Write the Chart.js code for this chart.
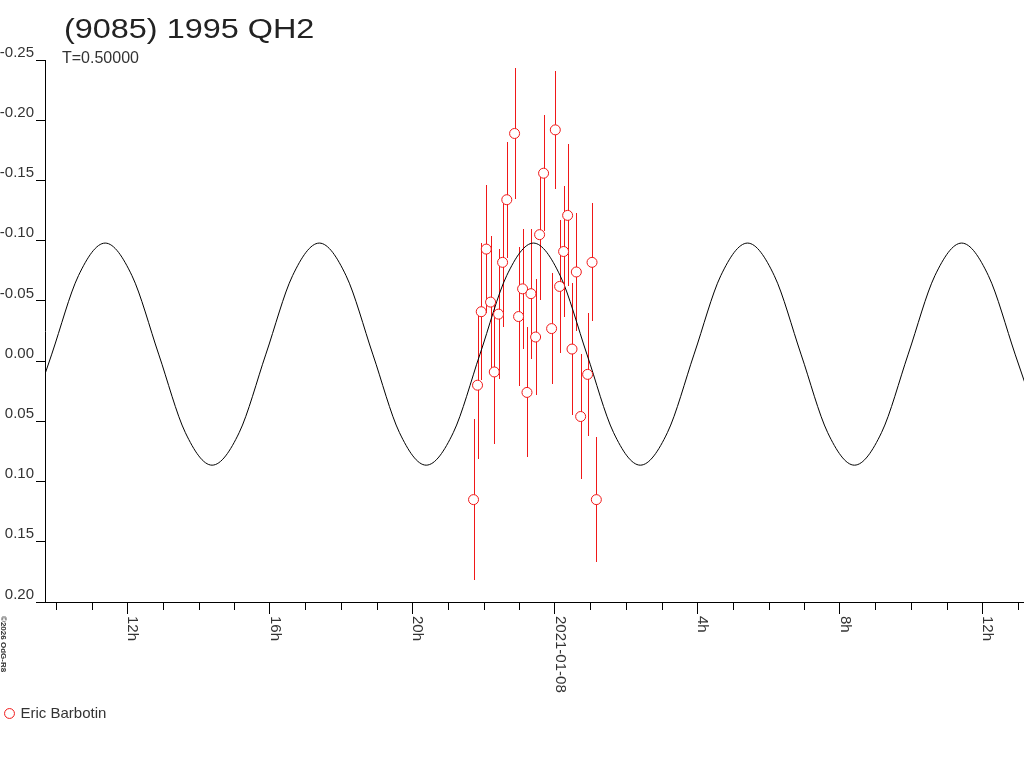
<!DOCTYPE html>
<html>
<head>
<meta charset="utf-8">
<title>(9085) 1995 QH2</title>
<script src="https://cdn.jsdelivr.net/npm/chart.js@4/dist/chart.umd.min.js"></script>
<style>
  html, body { margin: 0; padding: 0; background: #fff; }
  canvas { display: block; }
</style>
</head>
<body>
<canvas id="lc" width="1024" height="768"></canvas>
<script>
// hours from 2021-01-08 00:00 UT
var obsHours = [-2.281, -2.169, -2.065, -1.924, -1.803, -1.699, -1.579, -1.466, -1.348, -1.129,
                -1.017, -0.904, -0.781, -0.669, -0.539, -0.427, -0.315, -0.090, 0.014, 0.135,
                0.247, 0.360, 0.483, 0.604, 0.725, 0.921, 1.045, 1.166];
var obsMags = [0.115, 0.020, -0.041, -0.093, -0.049, 0.009, -0.039, -0.082, -0.134, -0.189,
               -0.037, -0.060, 0.026, -0.056, -0.020, -0.105, -0.156, -0.027, -0.192, -0.062,
               -0.091, -0.121, -0.010, -0.074, 0.046, 0.011, -0.082, 0.115];
var obsErrs = [0.067, 0.061, 0.057, 0.053, 0.055, 0.060, 0.054, 0.054, 0.048, 0.054,
               0.058, 0.050, 0.054, 0.054, 0.048, 0.054, 0.048, 0.046, 0.049, 0.055,
               0.054, 0.059, 0.055, 0.049, 0.052, 0.051, 0.049, 0.052];

// fitted curve
var curveHours = [-14.87, -14.12, -13.37, -12.62, -11.87, -11.12, -10.37, -9.62, -8.86, -8.11,
                  -7.36, -6.61, -5.86, -5.11, -4.36, -3.61, -2.85, -2.10, -1.35, -0.60,
                  0.15, 0.90, 1.65, 2.40, 3.16, 3.91, 4.66, 5.41, 6.16, 6.91,
                  7.66, 8.41, 9.17, 9.92, 10.67, 11.42, 12.17, 12.92, 13.67];
var curveMags = [0.0594, -0.0058, -0.0710, -0.0980, -0.0710, -0.0058, 0.0594, 0.0864, 0.0594, -0.0058,
                 -0.0710, -0.0980, -0.0710, -0.0058, 0.0594, 0.0864, 0.0594, -0.0058, -0.0710, -0.0980,
                 -0.0710, -0.0058, 0.0594, 0.0864, 0.0594, -0.0058, -0.0710, -0.0980, -0.0710, -0.0058,
                 0.0594, 0.0864, 0.0594, -0.0058, -0.0710, -0.0980, -0.0710, -0.0058, 0.0594];

var yTickValues = [-0.25, -0.20, -0.15, -0.10, -0.05, 0.00, 0.05, 0.10, 0.15, 0.20];
var xMinorHours = [-14, -13, -12, -11, -10, -9, -8, -7, -6, -5, -4, -3, -2, -1, 0,
                   1, 2, 3, 4, 5, 6, 7, 8, 9, 10, 11, 12, 13];
var xMajorHours = [-12, -8, -4, 0, 4, 8, 12];
var xMajorLabels = ['12h', '16h', '20h', '2021-01-08', '4h', '8h', '12h'];

var titleText = '(9085) 1995 QH2';
var subtitleText = 'T=0.50000';
var creditText = '\u00a92026 OdG-R8';
var observerName = 'Eric Barbotin';

var RED = '#f01818';
var FONT = '"Liberation Sans", Arial, sans-serif';

Chart.defaults.font.family = FONT;

var overlay = {
    id: 'overlay',
    beforeDatasetsDraw: function(chart) {
        var ctx = chart.ctx, xs = chart.scales.x, ys = chart.scales.y;
        ctx.save();
        ctx.strokeStyle = RED;
        ctx.lineWidth = 1;
        for (var i = 0; i < obsHours.length; i++) {
            var px = Math.round(xs.getPixelForValue(obsHours[i])) + 0.5;
            ctx.beginPath();
            ctx.moveTo(px, Math.round(ys.getPixelForValue(obsMags[i] - obsErrs[i])));
            ctx.lineTo(px, Math.round(ys.getPixelForValue(obsMags[i] + obsErrs[i])));
            ctx.stroke();
        }
        ctx.restore();
    },
    afterDraw: function(chart) {
        var ctx = chart.ctx, xs = chart.scales.x;
        var base = chart.chartArea.bottom;
        ctx.save();
        // minor hour ticks
        ctx.strokeStyle = '#000';
        ctx.lineWidth = 1;
        xMinorHours.forEach(function(h) {
            if (xMajorHours.indexOf(h) >= 0) return;
            var px = Math.round(xs.getPixelForValue(h)) + 0.5;
            ctx.beginPath();
            ctx.moveTo(px, base);
            ctx.lineTo(px, base + 8);
            ctx.stroke();
        });
        // rotated hour labels
        ctx.fillStyle = '#333';
        ctx.font = '15px ' + FONT;
        ctx.textAlign = 'left';
        ctx.textBaseline = 'alphabetic';
        xMajorHours.forEach(function(h, i) {
            var px = Math.round(xs.getPixelForValue(h)) + 1;
            ctx.save();
            ctx.translate(px, base + 14);
            ctx.rotate(Math.PI / 2);
            ctx.fillText(xMajorLabels[i], 0, 0);
            ctx.restore();
        });
        // credit
        ctx.save();
        ctx.font = 'bold 8px ' + FONT;
        ctx.translate(1, base + 14);
        ctx.rotate(Math.PI / 2);
        ctx.fillText(creditText, 0, 0);
        ctx.restore();
        // title
        ctx.save();
        ctx.fillStyle = '#222';
        ctx.font = '27px ' + FONT;
        ctx.translate(64, 38);
        ctx.scale(1.2, 1);
        ctx.fillText(titleText, 0, 0);
        ctx.restore();
        ctx.font = '16px ' + FONT;
        ctx.fillText(subtitleText, 62, 63);
        ctx.restore();
    }
};

var ctx = document.getElementById('lc');
var lightCurve = new Chart(ctx, {
    type: 'scatter',
    data: {
        datasets: [{
            label: observerName,
            data: obsHours.map(function(h, i) { return { x: h, y: obsMags[i] }; }),
            pointStyle: 'circle',
            pointRadius: 5,
            pointHoverRadius: 5,
            borderColor: RED,
            backgroundColor: '#fff',
            borderWidth: 1,
            order: 0
        }, {
            type: 'line',
            label: 'fit',
            data: curveHours.map(function(h, i) { return { x: h, y: curveMags[i] }; }),
            borderColor: '#000',
            borderWidth: 1,
            pointRadius: 0,
            fill: false,
            cubicInterpolationMode: 'monotone',
            order: 1
        }]
    },
    options: {
        responsive: false,
        devicePixelRatio: 1,
        animation: false,
        layout: { autoPadding: false, padding: { left: 0, top: 60, right: 0, bottom: 37 } },
        plugins: {
            tooltip: { enabled: false },
            legend: {
                position: 'bottom',
                align: 'start',
                labels: {
                    usePointStyle: true,
                    boxWidth: 7,
                    boxHeight: 7,
                    padding: 6,
                    color: '#333',
                    font: { size: 15 },
                    filter: function(item) { return item.datasetIndex === 0; }
                }
            }
        },
        scales: {
            x: {
                type: 'linear',
                position: 'bottom',
                min: -14.31,
                max: 13.17,
                border: { color: '#000', width: 1 },
                grid: {
                    drawOnChartArea: false,
                    tickLength: 12,
                    tickColor: function(c) {
                        return (c.tick && xMajorHours.indexOf(c.tick.value) >= 0) ? '#000' : 'rgba(0,0,0,0)';
                    }
                },
                ticks: { display: false },
                afterBuildTicks: function(s) {
                    s.ticks = xMinorHours.map(function(h) { return { value: h }; });
                },
                afterFit: function(s) { s.height = 98; }
            },
            y: {
                type: 'linear',
                position: 'left',
                reverse: true,
                min: -0.25,
                max: 0.20,
                border: { color: '#000', width: 1 },
                grid: { drawOnChartArea: false, tickLength: 9, color: '#000' },
                ticks: {
                    padding: 2,
                    color: '#333',
                    font: { size: 15, lineHeight: 1 },
                    callback: function(v) { return [v.toFixed(2), '']; }
                },
                afterBuildTicks: function(s) {
                    s.ticks = yTickValues.map(function(v) { return { value: v }; });
                },
                afterFit: function(s) { s.width = 45; }
            }
        }
    },
    plugins: [overlay]
});
</script>
</body>
</html>
